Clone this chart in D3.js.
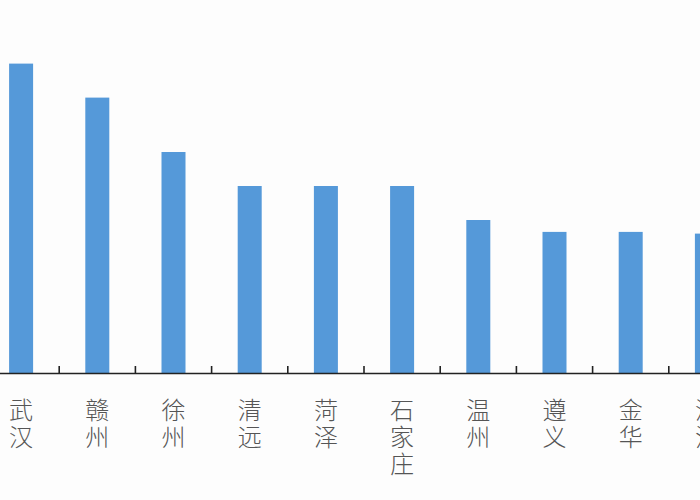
<!DOCTYPE html>
<html>
<head>
<meta charset="utf-8">
<script src="https://cdn.jsdelivr.net/npm/d3@7/dist/d3.min.js"></script>
<style>
html,body{margin:0;padding:0;background:#fdfdfd;}
svg{display:block;}
</style>
</head>
<body>
<svg id="chart" width="700" height="500"></svg>
<script>
const categories = ["武汉","赣州","徐州","清远","菏泽","石家庄","温州","遵义","金华","湛江"];
const values = [18.2, 16.2, 13, 11, 11, 11, 9, 8.3, 8.3, 8.2];

const svg = d3.select("#chart");
const W = 700, H = 500;
svg.append("rect").attr("width", W).attr("height", H).attr("fill", "#fdfdfd");

const axisY = 373;
const x = d3.scaleBand().domain(categories).range([-17, 745]).paddingInner(0.685).paddingOuter(0.3425);
const y = d3.scaleLinear().domain([0, 20]).range([axisY, 33]);

svg.append("g").selectAll("rect").data(categories).join("rect")
  .attr("x", d => x(d))
  .attr("width", x.bandwidth())
  .attr("y", (d,i) => y(values[i]))
  .attr("height", (d,i) => axisY - y(values[i]))
  .attr("fill", "#5599D9");

// axis
const ax = svg.append("g").attr("transform", `translate(0,${axisY})`)
  .call(d3.axisBottom(x).tickSize(0).tickSizeOuter(0).tickFormat(""));
ax.select(".domain").attr("stroke", "#222").attr("stroke-width", 1.6);

// tick marks between categories (upward)
const step = x.step();
svg.append("g").selectAll("line").data(categories).join("line")
  .attr("x1", d => x(d) + x.bandwidth()/2 + step/2)
  .attr("x2", d => x(d) + x.bandwidth()/2 + step/2)
  .attr("y1", axisY).attr("y2", axisY - 7)
  .attr("stroke", "#222").attr("stroke-width", 1.6);

// vertical labels
const lab = svg.append("g").selectAll("text").data(categories).join("text")
  .attr("x", d => x(d) + x.bandwidth()/2)
  .attr("y", 419)
  .attr("text-anchor", "middle")
  .attr("font-family", "'Noto Sans CJK SC', sans-serif")
  .attr("font-size", 24)
  .attr("font-weight", 300)
  .attr("fill", "#555");
lab.each(function(d){
  const t = d3.select(this);
  Array.from(d).forEach((ch, i) => {
    t.append("tspan").attr("x", x(d) + x.bandwidth()/2).attr("dy", i === 0 ? 0 : 27).text(ch);
  });
});
</script>
</body>
</html>
